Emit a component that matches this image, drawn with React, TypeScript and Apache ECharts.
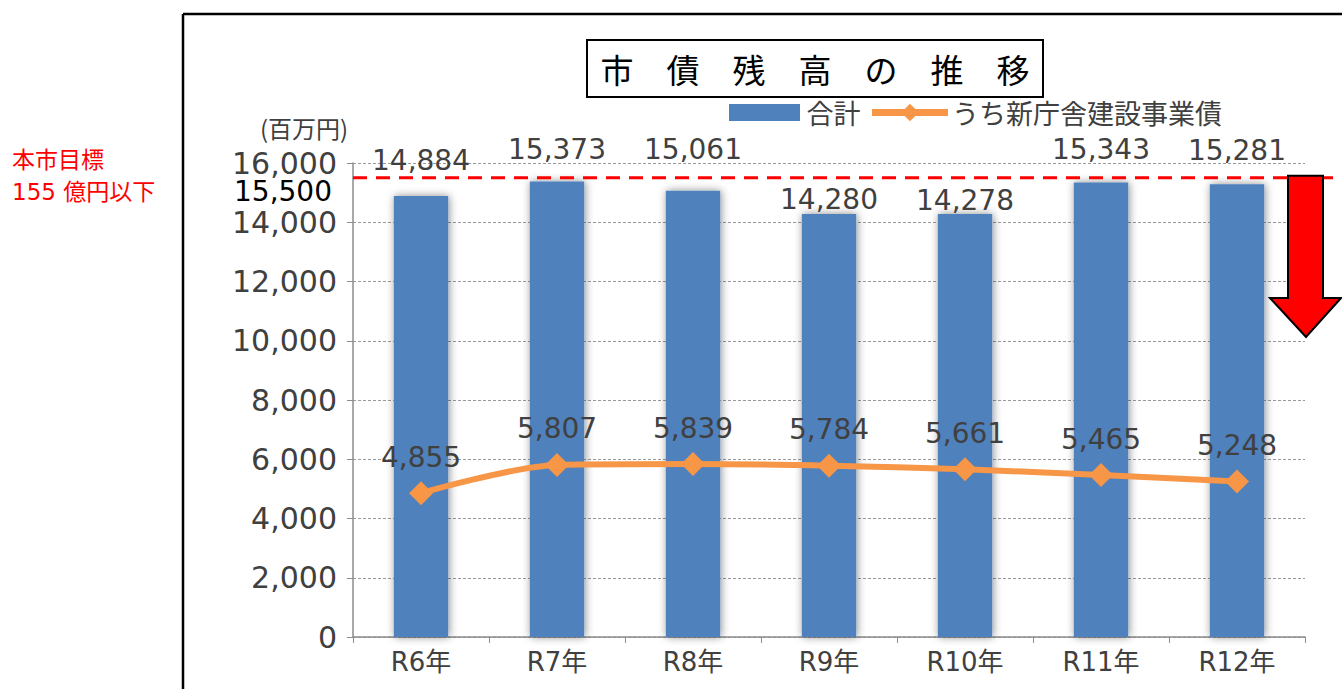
import React, { useEffect, useRef } from "react";
import * as echarts from "echarts";

const categories = ["R6年", "R7年", "R8年", "R9年", "R10年", "R11年", "R12年"];
const totalValues = [14884, 15373, 15061, 14280, 14278, 15343, 15281];
const newOfficeBondValues = [4855, 5807, 5839, 5784, 5661, 5465, 5248];
const targetValue = 15500;
const yTicks = { min: 0, max: 16000, interval: 2000 };
const seriesNames = ["合計", "うち新庁舎建設事業債"];

// label lift per bar (style only)
const barLabelDistance = [22, 18, 27, 0, 0, 19, 20];

const NUM_FONT = "DejaVu Sans, Noto Sans CJK JP, sans-serif";
const JP_FONT = "Noto Sans CJK JP, DejaVu Sans, sans-serif";

const fmt = (v: number) => v.toLocaleString("en-US");

export default function App() {
  const ref = useRef<HTMLDivElement>(null);
  useEffect(() => {
    if (!ref.current) return;
    const chart = echarts.init(ref.current, undefined, { renderer: "svg" });
    const option: any = {
      animation: false,
      backgroundColor: "#ffffff",
      grid: { left: 353, top: 163, width: 952, height: 474, containLabel: false },
      legend: {
        left: 719,
        top: 94,
        itemWidth: 76,
        itemHeight: 22,
        itemGap: 8,
        textStyle: { fontFamily: JP_FONT, fontSize: 27, lineHeight: 26, color: "#404040", padding: [0, 0, 0, -1] },
        data: [
          { name: seriesNames[0], icon: "rect", itemStyle: { borderColor: "#fff", borderWidth: 5 } },
          { name: seriesNames[1], lineStyle: { width: 7 }, itemStyle: { borderWidth: 0 } },
        ],
      },
      xAxis: {
        type: "category",
        data: categories,
        axisLine: { lineStyle: { color: "#8c8c8c", width: 1.5 } },
        axisTick: { show: true, length: 6, alignWithLabel: false, lineStyle: { color: "#8c8c8c" } },
        axisLabel: { fontFamily: NUM_FONT, fontSize: 26, color: "#404040", margin: 12 },
      },
      yAxis: {
        type: "value",
        min: yTicks.min,
        max: yTicks.max,
        interval: yTicks.interval,
        axisLine: { show: true, lineStyle: { color: "#8c8c8c", width: 1.5 } },
        axisTick: { show: true, length: 6, lineStyle: { color: "#8c8c8c" } },
        axisLabel: {
          fontFamily: NUM_FONT,
          fontSize: 30,
          lineHeight: 24,
          color: "#404040",
          margin: 16,
          formatter: (v: number) => fmt(v),
        },
        splitLine: { lineStyle: { color: "#9a9a9a", type: [3, 2], width: 1 } },
      },
      series: [
        {
          name: seriesNames[0],
          type: "bar",
          barWidth: "40%",
          itemStyle: {
            color: "#4F81BD",
            shadowBlur: 8,
            shadowColor: "rgba(0,0,0,0.45)",
            shadowOffsetX: 1,
          },
          data: totalValues.map((v, i) => ({
            value: v,
            label: {
              show: true,
              position: "top",
              distance: barLabelDistance[i] + 3,
              formatter: (p: any) => fmt(p.value),
              fontFamily: NUM_FONT,
              fontSize: 28,
              lineHeight: 22,
              color: "#404040",
            },
          })),
          z: 2,
        },
        {
          name: seriesNames[1],
          type: "line",
          smooth: 0.3,
          symbol: "diamond",
          symbolSize: 24,
          lineStyle: { color: "#F79646", width: 6 },
          itemStyle: { color: "#F79646" },
          label: {
            show: true,
            position: "top",
            distance: 13,
            formatter: (p: any) => fmt(p.value),
            fontFamily: NUM_FONT,
            fontSize: 28,
            lineHeight: 22,
            color: "#404040",
          },
          data: newOfficeBondValues,
          z: 3,
        },
      ],
    };
    chart.setOption(option);

    const yTarget = chart.convertToPixel({ yAxisIndex: 0 }, targetValue) as number;
    const xLeft = 353;
    const arrowTop = yTarget - 2;
    chart.setOption({
      graphic: [
        // outer frame
        { type: "line", shape: { x1: 183, y1: 14, x2: 1342, y2: 14 }, style: { stroke: "#000", lineWidth: 2.5 }, z: 10 },
        { type: "line", shape: { x1: 183, y1: 14, x2: 183, y2: 689 }, style: { stroke: "#000", lineWidth: 2.5 }, z: 10 },
        // title box
        { type: "rect", shape: { x: 587, y: 40, width: 456, height: 57 }, style: { fill: "#fff", stroke: "#000", lineWidth: 2 }, z: 10 },
        {
          type: "text",
          x: 815,
          y: 69,
          style: {
            text: "市　債　残　高　の　推　移",
            fontFamily: JP_FONT,
            fontSize: 33,
            fill: "#000",
            align: "center",
            verticalAlign: "middle",
          },
          z: 11,
        },
        // unit
        {
          type: "text",
          x: 304,
          y: 127,
          style: { text: "(百万円)", fontFamily: JP_FONT, fontSize: 24, lineHeight: 22, fill: "#404040", align: "center", verticalAlign: "middle" },
          z: 10,
        },
        // target note
        {
          type: "text",
          x: 12,
          y: 160,
          style: { text: "本市目標", fontFamily: NUM_FONT, fontSize: 23, fill: "#ff0000", align: "left", verticalAlign: "middle" },
          z: 10,
        },
        {
          type: "text",
          x: 12,
          y: 192,
          style: { text: "155 億円以下", fontFamily: NUM_FONT, fontSize: 23, fill: "#ff0000", align: "left", verticalAlign: "middle" },
          z: 10,
        },
        // target line
        {
          type: "line",
          shape: { x1: xLeft, y1: yTarget, x2: 1342, y2: yTarget },
          style: { stroke: "#ff0000", lineWidth: 3, lineDash: [14, 9] },
          z: 9,
        },
        {
          type: "text",
          x: 332,
          y: yTarget + 14,
          style: { text: fmt(targetValue), fontFamily: NUM_FONT, fontSize: 28, lineHeight: 21, fill: "#000", align: "right", verticalAlign: "middle" },
          z: 10,
        },
        // red arrow
        {
          type: "polygon",
          shape: {
            points: [
              [1288, arrowTop],
              [1323, arrowTop],
              [1323, 298],
              [1341, 298],
              [1306, 337],
              [1270, 298],
              [1288, 298],
            ],
          },
          style: { fill: "#ff0000", stroke: "#000", lineWidth: 2 },
          z: 10,
        },
      ],
    });

    return () => chart.dispose();
  }, []);
  return (
    <div
      ref={ref}
      style={{ position: "fixed", left: 0, top: 0, width: 1342, height: 689, background: "#fff" }}
    />
  );
}
